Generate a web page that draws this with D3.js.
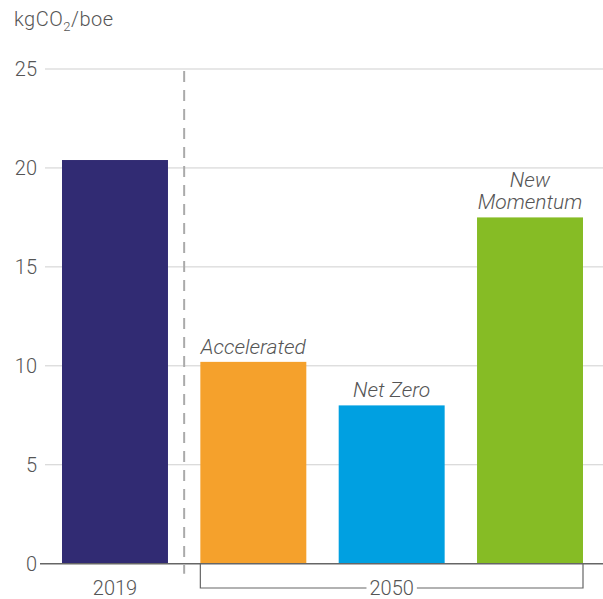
<!DOCTYPE html>
<html><head><meta charset="utf-8">
<script src="https://cdn.jsdelivr.net/npm/d3@7"></script>
<style>
body{margin:0;background:#fff;}
text{font-family:"Roboto","Liberation Sans",Arial,sans-serif;fill:#555;font-weight:300;}
</style></head>
<body><svg id="c" width="603" height="599"></svg>
<script>
const categories = ["2019", "Accelerated", "Net Zero", "New Momentum"];
const values = [20.4, 10.2, 8.0, 17.5];
const colors = ["#312b73", "#f5a12c", "#00a0e1", "#86bc25"];
const annotations = [null, ["Accelerated"], ["Net Zero"], ["New", "Momentum"]];
const yTicks = [0, 5, 10, 15, 20, 25];
const groupLabels = ["2019", "2050"];

const svg = d3.select("#c");
const y = d3.scaleLinear().domain([0, 25]).range([563.7, 69]);
const x = d3.scaleBand().domain(categories).range([62, 583]).paddingInner(0.234).paddingOuter(0);

// gridlines
svg.append("g").selectAll("line").data(yTicks.filter(d => d > 0)).join("line")
  .attr("x1", 45).attr("x2", 603).attr("y1", d => y(d)).attr("y2", d => y(d))
  .attr("stroke", "#cfcfcf").attr("stroke-width", 1);

// tick labels
svg.append("g").selectAll("text").data(yTicks).join("text")
  .attr("x", 37).attr("y", d => y(d)).attr("dy", "0.35em")
  .attr("text-anchor", "end").attr("font-size", 20).text(d => d);

// unit label
const u = svg.append("text").attr("x", 14).attr("y", 26).attr("font-size", 20).attr("letter-spacing", 0.5);
u.append("tspan").text("kgCO");
u.append("tspan").attr("font-size", 13).attr("dy", 5).text("2");
u.append("tspan").attr("dy", -5).text("/boe");

// dashed separator
const sepX = (x(categories[0]) + x.bandwidth() + x(categories[1])) / 2;
svg.append("line").attr("x1", sepX).attr("x2", sepX).attr("y1", y(25) + 2).attr("y2", y(0) + 10)
  .attr("stroke", "#aaa").attr("stroke-width", 2).attr("stroke-dasharray", "11,8");

// bars
svg.append("g").selectAll("rect").data(categories).join("rect")
  .attr("x", d => x(d)).attr("width", x.bandwidth())
  .attr("y", (d, i) => y(values[i])).attr("height", (d, i) => y(0) - y(values[i]))
  .attr("fill", (d, i) => colors[i]);

// zero axis
svg.append("line").attr("x1", 40).attr("x2", 603).attr("y1", y(0)).attr("y2", y(0))
  .attr("stroke", "#666").attr("stroke-width", 1.5);

// annotations
categories.forEach((c, i) => {
  const a = annotations[i];
  if (!a) return;
  const cx = x(c) + x.bandwidth() / 2;
  a.forEach((line, j) => {
    svg.append("text").attr("x", cx)
      .attr("y", y(values[i]) - 8 - (a.length - 1 - j) * 22)
      .attr("text-anchor", "middle").attr("font-size", 21).attr("font-style", "italic")
      .text(line);
  });
});

// group labels
const c0 = x(categories[0]) + x.bandwidth() / 2;
svg.append("text").attr("x", c0).attr("y", 595).attr("text-anchor", "middle").attr("font-size", 20).text(groupLabels[0]);
const gx1 = x(categories[1]), gx2 = x(categories[3]) + x.bandwidth();
const gc = (gx1 + gx2) / 2, by = 588;
const lbl = svg.append("text").attr("x", gc).attr("y", 595).attr("text-anchor", "middle").attr("font-size", 20).text(groupLabels[1]);
const w = lbl.node().getComputedTextLength() / 2 + 3;
svg.append("path").attr("fill", "none").attr("stroke", "#666").attr("stroke-width", 1.2)
  .attr("d", `M${gc - w},${by}H${gx1}V${y(0)}M${gc + w},${by}H${gx2}V${y(0)}`);
</script></body></html>
